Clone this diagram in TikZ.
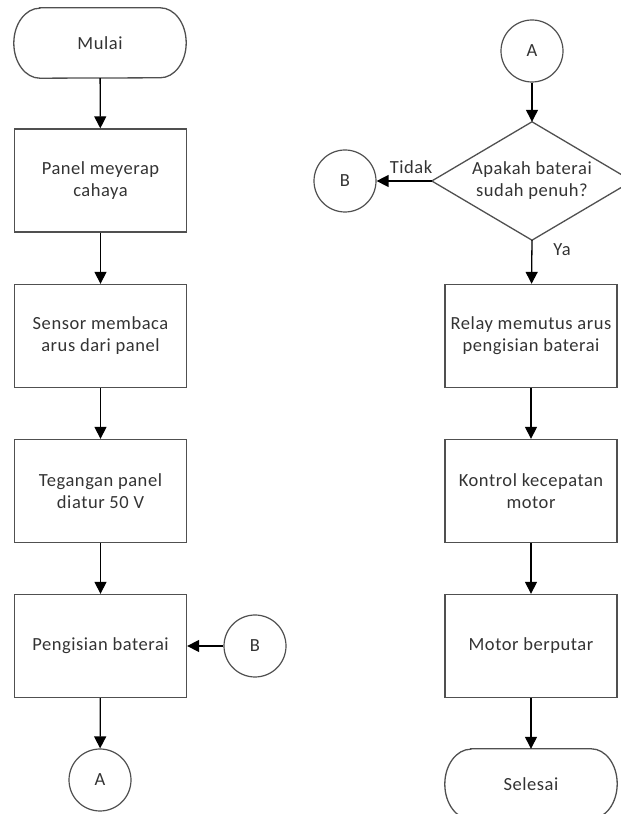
\documentclass[tikz,border=0pt]{standalone}
\usepackage{fontspec}
\setmainfont{Carlito}[LetterSpace=3]
\usetikzlibrary{arrows.meta,calc}
\definecolor{edgegray}{HTML}{505050}
\definecolor{txtgray}{HTML}{333333}
\begin{document}
\begin{tikzpicture}[x=1pt,y=1pt,
  font=\fontsize{18.5}{22}\selectfont, text=txtgray,
  proc/.style={draw=edgegray, line width=1.3pt, minimum width=172pt, minimum height=103pt, align=center, inner sep=0pt},
  term/.style={minimum width=172pt, minimum height=70pt, inner sep=0pt},
  conn/.style={circle, draw=edgegray, line width=1.2pt, minimum size=62pt, inner sep=0pt},
  dec/.style={minimum width=200pt, minimum height=118pt, inner sep=0pt, align=center},
  flow/.style={-{Triangle[width=12pt,length=12pt]}, line width=1.3pt, black},
  lbl/.style={inner sep=0pt}
]
\useasboundingbox (0,0) rectangle (621,814);
\clip (0,0) rectangle (621,814);
% left column
\node[term] (mul) at (100,771) {Mulai};
\node[proc] (p1) at (100.5,633.5) {Panel meyerap\\cahaya};
\node[proc] (p2) at (100.5,478) {Sensor membaca\\arus dari panel};
\node[proc] (p3) at (100.5,323) {Tegangan panel\\diatur 50 V};
\node[proc] (p4) at (100.5,168) {Pengisian baterai};
\node[conn] (bl) at (255,168) {B};
\node[conn] (ab) at (100,34) {A};
% right column
\node[conn] (at) at (532,763) {A};
\node[dec] (d) at (532,633) {Apakah baterai\\sudah penuh?};
\node[conn] (br) at (345,633) {B};
\node[proc] (r1) at (531,478) {Relay memutus arus\\pengisian baterai};
\node[proc] (r2) at (531,323) {Kontrol kecepatan\\motor};
\node[proc] (r3) at (531,168) {Motor berputar};
\node[term] (sel) at (531,30) {Selesai};
\node[lbl] (tidak) at (411,647) {Tidak};
\node[lbl] (ya) at (562,564) {Ya};
% shapes drawn from node anchors
\draw[edgegray, line width=1.3pt] (d.north) -- (d.east) -- (d.south) -- (d.west) -- cycle;
\foreach \n in {mul,sel}{
  \draw[edgegray, line width=1.3pt]
    ($(\n.north west)+(26,0)$) -- ($(\n.north east)+(-26,0)$)
    arc[start angle=90, end angle=-90, x radius=26, y radius=35]
    -- ($(\n.south west)+(26,0)$)
    arc[start angle=270, end angle=90, x radius=26, y radius=35] -- cycle;
}
% connectors
\draw[flow] (mul) -- (p1);
\draw[flow] (p1) -- (p2);
\draw[flow] (p2) -- (p3);
\draw[flow] (p3) -- (p4);
\draw[flow] (p4) -- (ab);
\draw[flow] (bl) -- (p4);
\draw[flow] (at) -- (d.north);
\draw[flow] (d.west) -- (br);
\draw[flow] (d.south) -- (r1);
\draw[flow] (r1) -- (r2);
\draw[flow] (r2) -- (r3);
\draw[flow] (r3) -- (sel);
\end{tikzpicture}
\end{document}
